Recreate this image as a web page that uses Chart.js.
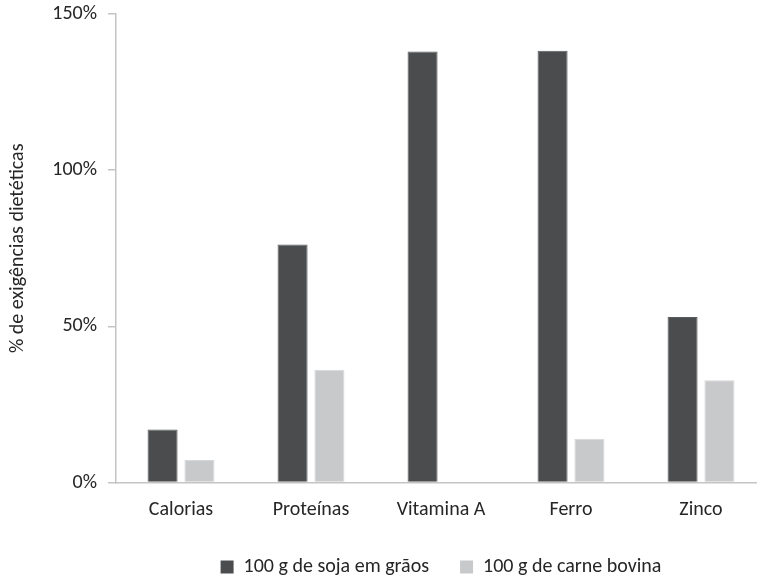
<!DOCTYPE html>
<html>
<head>
<meta charset="utf-8">
<script src="https://cdn.jsdelivr.net/npm/chart.js@4.4.1/dist/chart.umd.min.js"></script>
<style>
  html, body { margin: 0; padding: 0; background: #ffffff; overflow: hidden; }
  #wrap { width: 766px; height: 580px; position: relative; }
</style>
</head>
<body>
<div id="wrap"><canvas id="chart"></canvas></div>
<script>
// Nutrients compared, as % of daily dietary requirements
const categories = ['Calorias', 'Proteínas', 'Vitamina A', 'Ferro', 'Zinco'];
const sojaValues = [17, 76.2, 138, 138.2, 53];
const carneValues = [7.2, 36.1, 0, 14, 32.7];
const yTicks = [0, 50, 100, 150];
const seriesNames = ['100 g de soja em grãos', '100 g de carne bovina'];

const FONT = 'Carlito, Calibri, Lato, sans-serif';
const TEXT = '#262626';
const AXIS = '#c4c4c4';

new Chart(document.getElementById('chart'), {
  type: 'bar',
  data: {
    labels: categories,
    datasets: [
      { label: seriesNames[0], data: sojaValues, backgroundColor: '#4b4c4e',
        borderColor: '#5a5b5d', borderWidth: 1 },
      { label: seriesNames[1], data: carneValues, backgroundColor: '#c8c9cb',
        borderColor: '#d6d7d9', borderWidth: 1 }
    ]
  },
  options: {
    responsive: true,
    maintainAspectRatio: false,
    animation: false,
    categoryPercentage: 0.567,
    barPercentage: 0.815,
    layout: { padding: { top: 14, right: 0, left: 0, bottom: -7 } },
    plugins: {
      tooltip: { enabled: false },
      legend: {
        position: 'bottom',
        fullSize: false,
        labels: {
          color: TEXT,
          font: { family: FONT, size: 20 },
          boxWidth: 13,
          boxHeight: 13,
          padding: 31,
          generateLabels(chart) {
            return chart.data.datasets.map((ds, i) => ({
              text: ds.label,
              fillStyle: ds.backgroundColor,
              strokeStyle: ds.backgroundColor,
              lineWidth: 0,
              datasetIndex: i,
              fontColor: TEXT
            }));
          }
        }
      }
    },
    scales: {
      x: {
        grid: { display: false, drawTicks: false },
        border: { display: true, color: AXIS, width: 1.5 },
        ticks: { color: TEXT, font: { family: FONT, size: 20 }, padding: 15 },
        afterFit(scale) { scale.height = 43.5; }
      },
      y: {
        min: 0,
        max: 150,
        afterBuildTicks(scale) { scale.ticks = yTicks.map(v => ({ value: v })); },
        grid: { display: true, drawOnChartArea: false, drawTicks: true,
                tickLength: 8, color: AXIS, lineWidth: 1.5 },
        border: { display: true, color: AXIS, width: 1.5 },
        ticks: {
          color: TEXT,
          font: { family: FONT, size: 20 },
          padding: 11,
          callback: v => v + '%'
        },
        title: {
          display: true,
          text: '% de exigências dietéticas',
          color: TEXT,
          font: { family: FONT, size: 20 },
          padding: { top: 6, bottom: 0 }
        },
        afterFit(scale) {
          scale.width = 116;
          scale.paddingTop = 0;
          scale.paddingBottom = 0;
        }
      }
    }
  }
});
</script>
</body>
</html>
